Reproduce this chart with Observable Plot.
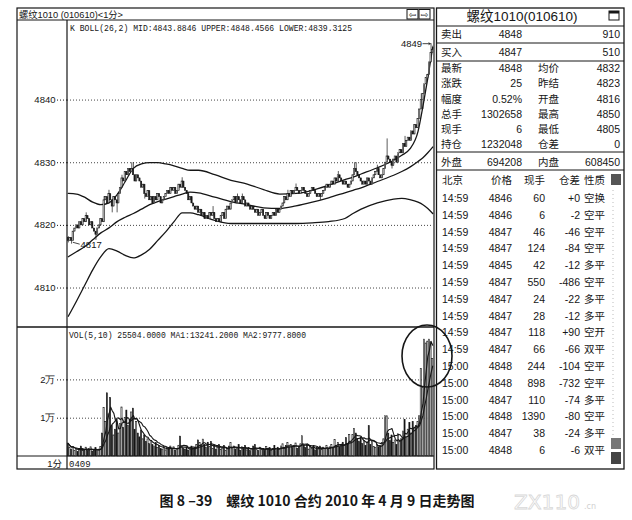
<!DOCTYPE html>
<html><head><meta charset="utf-8">
<script src="https://cdn.jsdelivr.net/npm/d3@7"></script>
<script src="https://cdn.jsdelivr.net/npm/@observablehq/plot@0.6"></script>
<style>
body{margin:0;background:#fff;}
#wrap{position:relative;width:632px;height:520px;overflow:hidden;background:#fff;}
#wrap svg{position:absolute;}
#wrap [aria-label="y-axis tick"] path{stroke-dasharray:1 2;}
</style></head><body><div id="wrap"></div>
<script>
// ---------------- DATA ----------------
const firstOpen = 4818;
const closes = [
4817.5,4818,4817.5,4819,4819.5,4820,4819.5,4820.5,4820,4821,4820.5,4821.5,4821,4820,4820.5,4819.5,4819,4818.5,4819.5,4820,4821,4820.5,
4824,4824.5,4823.5,4825,4824,4823,4824.5,4824,4823.5,4825,
4826,4827.5,4827,4828.5,4828,4829,4828.5,4829,4828,4827,
4828,4827.5,4827,4826,4826.5,4825,4824.5,4825.5,4824,4824.5,
4823.5,4824.5,4824,4825,4824.5,4823.5,4824,4824.5,4825,4825.5,
4825,4826,4825.5,4826,4825,4825.5,4826.5,4826,4827,4826,
4825.5,4825,4824,4824.5,4823.5,4823,4822.5,4823,4822,4822.5,
4821.5,4822,4821,4821.5,4821,4822,4821.5,4822,4821,4820.5,
4821,4820.5,4821.5,4822,4821,4822.5,4823,4822.5,4823.5,4824,
4824.5,4823.5,4824.5,4824,4823.5,4824.5,4824,4823,4823.5,4823,
4822.5,4823,4822.5,4822,4822.5,4821.5,4822,4822.5,4821.5,4821,
4822,4821.5,4821,4821.5,4822,4821.5,4822.5,4822,4822.5,4823,
4823.5,4824.5,4824,4825,4824.5,4825.5,4825,4825.5,4826,4825.5,
4825,4825.5,4826,4825.5,4825,4824.5,4825,4825.5,4826,4825.5,
4825,4824.5,4825,4824.5,4825,4825.5,4826,4826.5,4826,4826.5,
4827,4826.5,4827.5,4827,4828,4827.5,4827,4826.5,4827,4826.5,
4826,4826.5,4827,4828,4829,4828.5,4828,4827.5,4827,4826.5,
4827,4826.5,4827.5,4827,4826.5,4827.5,4828,4828.5,4829,4828,
4827.5,4828,4829,4830,4831,4830.5,4830,4829.5,4830.5,4831,
4830,4831.5,4832,4831.5,4833,4832.5,4833.5,4834,4833.5,4835,
4834.5,4836,4835.5,4837,4838.5,4840,4841,4842.5,4843.5,4844,
4846,4847.5,4848];
const highIdx = [0,11,22,25,33,39,40,70,89,104,107,135,140,166,176,177,190,196,207,217,223,224];
const highVal = [4818.2,4822,4824.6,4825.6,4828,4830,4830,4827.6,4823,4825,4825,4825.6,4826.6,4828.6,4830,4830,4829.6,4833.8,4834.2,4841,4849,4848.6];
const lowIdx = [0,2,17,27,30,47,155,199,218];
const lowVal = [4817.2,4817,4817.6,4822,4822,4824.2,4824,4829,4838.5];

const volumes = [
3400,2200,1800,2500,1500,2000,1200,1800,2600,1400,1700,2300,1500,1900,2400,1300,1600,2200,1400,1800,2500,
6000,12700,9000,16500,11000,15300,8000,5500,7000,9500,
6000,8500,12800,7500,10000,12000,8000,9500,11500,12500,
7000,9000,6000,5000,6800,4500,5500,3800,4500,3200,
4000,3000,2600,3500,2200,2800,2000,1800,2500,1600,
2200,1900,2600,1700,2400,1500,2000,2800,5200,2500,
2000,1800,2400,1500,2000,2600,1800,2200,3000,4200,
3500,2800,4400,3000,2200,3600,2500,3800,2000,2600,
1800,2400,3000,1700,2200,2800,1500,2000,2600,3500,
2000,2600,1800,2200,3000,1500,2400,1900,2800,1600,
2200,1400,2000,2600,3000,1800,1500,2300,1700,2000,
1400,2500,1800,2200,1500,2000,2800,1600,2300,1800,
2600,3200,2000,2800,3500,2400,3000,2200,2800,3400,
2000,2600,3200,5300,2800,2200,3000,1800,2500,2000,
2800,1600,2200,1900,2600,1700,2300,2000,2800,1800,
2400,3000,2200,4300,2800,3500,2400,3000,3600,2800,
4800,3200,5600,3800,5600,7200,6000,4500,3800,5000,
3200,4000,2800,3500,7900,3000,3800,2500,2200,3000,
2400,2800,3500,4500,10500,10500,6000,4000,5500,3500,
4200,3000,5800,3800,4500,6500,9600,5000,7000,8800,
6000,9000,7500,8000,9000,10500,22800,18000,30500,29500,
30000,30500,29800,25504];

// Bollinger(26,2) bands
const bandIdx   = [0,5,10,15,20,25,30,35,40,45,50,55,60,65,70,75,80,90,100,110,120,130,140,150,160,170,175,180,190,200,205,210,215,218,221,224];
const upperBand = [4825.1,4825.0,4824.5,4823.7,4823.3,4823.6,4824.9,4827.0,4829.1,4829.8,4830.0,4830.0,4829.8,4829.5,4829.1,4828.8,4828.8,4828.1,4827.2,4826.6,4825.7,4825.0,4825.1,4825.6,4826.4,4827.3,4827.7,4828.2,4829.2,4830.4,4831.2,4832.2,4835.0,4839.0,4843.5,4848.4];
const midBand   = [4815.0,4815.8,4816.6,4817.7,4818.8,4819.6,4820.6,4821.3,4821.9,4822.6,4823.3,4823.8,4824.2,4824.6,4825.0,4825.3,4825.2,4824.5,4823.8,4823.3,4822.8,4822.7,4823.1,4823.7,4824.4,4825.2,4825.6,4826.0,4827.0,4828.0,4828.6,4829.3,4830.2,4830.8,4831.6,4832.5];
const lowerBand = [4805.5,4807.9,4810.4,4812.9,4815.0,4816.3,4815.9,4815.2,4814.8,4815.3,4816.2,4817.6,4819.0,4820.6,4822.0,4822.0,4821.7,4820.8,4820.3,4820.3,4820.3,4820.3,4820.3,4820.4,4820.6,4821.1,4821.9,4822.6,4823.6,4824.2,4824.3,4824.1,4823.7,4823.3,4822.7,4821.9];

const priceTicks = [4810,4820,4830,4840];
const volTicks = [10000,20000];
const volTickLabels = ["1万","2万"];

const chartTitle = "螺纹1010 (010610)<1分>";
const bollHeader = "K  BOLL(26,2) MID:4843.8846 UPPER:4848.4566 LOWER:4839.3125";
const volHeader = "VOL(5,10) 25504.0000 MA1:13241.2000 MA2:9777.8000";
const periodLabel = "1分";
const dateLabel = "0409";

const panelTitle = "螺纹1010(010610)";
const quoteRows = [
 ["卖出","4848","","910"],
 ["买入","4847","","510"],
 ["最新","4848","均价","4832"],
 ["涨跌","25","昨结","4823"],
 ["幅度","0.52%","开盘","4816"],
 ["总手","1302658","最高","4850"],
 ["现手","6","最低","4805"],
 ["持仓","1232048","仓差","0"],
 ["外盘","694208","内盘","608450"]
];
const tradeHeader = ["北京","价格","现手","仓差","性质"];
const tradeTimes = ["14:59","14:59","14:59","14:59","14:59","14:59","14:59","14:59","14:59","14:59","15:00","15:00","15:00","15:00","15:00","15:00"];
const tradePrices = [4846,4846,4847,4847,4845,4847,4847,4847,4847,4847,4848,4848,4847,4848,4847,4848];
const tradeSizes = [60,6,46,124,42,550,24,28,118,66,244,898,110,1390,38,6];
const tradeOI = ["+0","-2","-46","-84","-12","-486","-22","-12","+90","-66","-104","-732","-74","-80","-24","-6"];
const tradeNature = ["空换","空平","空平","空平","多平","空平","多平","多平","空开","双平","空平","空平","多平","空平","多平","双平"];

const caption = "图 8 –39　螺纹 1010 合约 2010 年 4 月 9 日走势图";

// ---------------- BUILD ----------------
const ink = "#161616";
const N = closes.length;
const hiMap = new Map(highIdx.map((k,j)=>[k,highVal[j]]));
const loMap = new Map(lowIdx.map((k,j)=>[k,lowVal[j]]));
const rows = closes.map((c,i)=>{
  const o = i===0 ? firstOpen : closes[i-1];
  const h = Math.max(o,c, hiMap.has(i)?hiMap.get(i):-Infinity);
  const l = Math.min(o,c, loMap.has(i)?loMap.get(i):Infinity);
  return {i,o,c,h,l,v:volumes[i],up:c>=o};
});
const band = (arr)=>bandIdx.map((i,k)=>({i,v:arr[k]}));
const hw = 0.36;
const wrap = document.getElementById("wrap");
const baseStyle = {background:"transparent", overflow:"visible", fontFamily:"'Liberation Sans', sans-serif", fontSize:"9.5px", color:ink};

const maxI = d3.maxIndex(rows, d=>d.h);
const minI = d3.minIndex(rows, d=>d.l);

const pricePlot = Plot.plot({
  width:417, height:307, marginLeft:50, marginRight:1, marginTop:0, marginBottom:0,
  style: baseStyle,
  x:{type:"linear", domain:[-0.5, N-0.5], axis:null},
  y:{domain:[4803.7,4852.7], ticks:priceTicks, tickSize:10, tickPadding:2, tickFormat:d=>String(d), label:null},
  marks:[
    Plot.ruleY(priceTicks,{stroke:ink, strokeWidth:0.8, strokeDasharray:"1,2"}),
    Plot.line(band(upperBand),{x:"i",y:"v",curve:"monotone-x",stroke:ink,strokeWidth:1.3}),
    Plot.line(band(midBand),{x:"i",y:"v",curve:"monotone-x",stroke:ink,strokeWidth:1.3}),
    Plot.line(band(lowerBand),{x:"i",y:"v",curve:"monotone-x",stroke:ink,strokeWidth:1.3}),
    Plot.ruleX(rows,{x:"i",y1:"l",y2:"h",stroke:ink,strokeWidth:0.7}),
    Plot.rect(rows.filter(d=>d.c>d.o),{x1:d=>d.i-hw,x2:d=>d.i+hw,y1:"o",y2:"c",fill:"white",stroke:ink,strokeWidth:0.6}),
    Plot.rect(rows.filter(d=>d.c<d.o),{x1:d=>d.i-hw,x2:d=>d.i+hw,y1:"o",y2:"c",fill:ink,stroke:ink,strokeWidth:0.5}),
    Plot.ruleY(rows.filter(d=>d.c===d.o),{x1:d=>d.i-hw,x2:d=>d.i+hw,y:"c",stroke:ink,strokeWidth:0.8}),
    Plot.text([rows[maxI]],{x:"i",y:"h",text:d=>String(d.h),dx:-9,textAnchor:"end",fontSize:9.5,fill:ink}),
    Plot.arrow([rows[maxI]],{x1:d=>d.i-5,x2:d=>d.i-0.5,y1:"h",y2:"h",stroke:ink,strokeWidth:0.8,headLength:3}),
    Plot.text([rows[minI]],{x:"i",y:"l",text:d=>String(d.l),dx:9,dy:1,textAnchor:"start",fontSize:9.5,fill:ink}),
    Plot.link([rows[minI]],{x1:d=>d.i+0.8,x2:d=>d.i+5,y1:d=>d.l+0.3,y2:"l",stroke:ink,strokeWidth:0.8})
  ]
});
pricePlot.style.left="17px"; pricePlot.style.top="20px";
wrap.appendChild(pricePlot);

const volPlot = Plot.plot({
  width:417, height:129, marginLeft:50, marginRight:1, marginTop:0, marginBottom:0,
  style: baseStyle,
  x:{type:"linear", domain:[-0.5, N-0.5], axis:null},
  y:{domain:[0,33680], ticks:volTicks, tickSize:10, tickPadding:2, tickFormat:d=>volTickLabels[volTicks.indexOf(d)], label:null},
  marks:[
    Plot.ruleY(volTicks,{stroke:ink, strokeWidth:0.8, strokeDasharray:"1,2"}),
    Plot.rect(rows.filter(d=>d.up),{x1:d=>d.i-hw,x2:d=>d.i+hw,y1:0,y2:"v",fill:"white",stroke:ink,strokeWidth:0.6}),
    Plot.rect(rows.filter(d=>!d.up),{x1:d=>d.i-hw,x2:d=>d.i+hw,y1:0,y2:"v",fill:ink,stroke:ink,strokeWidth:0.5}),
    Plot.lineY(rows, Plot.windowY({k:5, anchor:"end", reduce:"mean"},{x:"i",y:"v",stroke:ink,strokeWidth:1.1})),
    Plot.lineY(rows, Plot.windowY({k:10, anchor:"end", reduce:"mean"},{x:"i",y:"v",stroke:ink,strokeWidth:1.1}))
  ]
});
volPlot.style.left="17px"; volPlot.style.top="327px";
wrap.appendChild(volPlot);

// ---------------- FRAME / PANEL OVERLAY ----------------
const svg = d3.select(wrap).append("svg").attr("width",632).attr("height",520).style("left","0px").style("top","0px");
const line=(x1,y1,x2,y2,w=1)=>svg.append("line").attr("x1",x1).attr("y1",y1).attr("x2",x2).attr("y2",y2).attr("stroke",ink).attr("stroke-width",w);
const txt=(s,x,y,anchor="start",size=10.5,fam="'Liberation Sans','Noto Sans CJK SC',sans-serif")=>svg.append("text").attr("x",x).attr("y",y).attr("text-anchor",anchor).attr("font-size",size).attr("font-family",fam).attr("fill",ink).text(s);

// left chart frame
svg.append("rect").attr("x",17).attr("y",8).attr("width",417).attr("height",461).attr("fill","none").attr("stroke",ink).attr("stroke-width",1.2);
line(17,20,434,20,1);
line(67,20,67,469,1.2);
line(17,327,434,327,1.6);
line(17,456,434,456,1);
txt(chartTitle,19,17.5,"start",9.5).attr("textLength",104).attr("lengthAdjust","spacingAndGlyphs");
// buttons
[[407,"⇦"],[419,"⇨"]].forEach(([bx,ch])=>{
  svg.append("rect").attr("x",bx).attr("y",9.5).attr("width",11).attr("height",9.5).attr("fill","white").attr("stroke",ink).attr("stroke-width",1);
  txt(ch,bx+5.5,17.5,"middle",9,"'DejaVu Sans',sans-serif");
});
txt(bollHeader,70,31,"start",8.5,"'Liberation Mono',monospace").attr("textLength",282).attr("lengthAdjust","spacingAndGlyphs");
txt(volHeader,69,338,"start",8.5,"'Liberation Mono',monospace").attr("textLength",237).attr("lengthAdjust","spacingAndGlyphs");
txt(periodLabel,62,466.5,"end",9.5);
txt(dateLabel,69,466.5,"start",9,"'Liberation Mono',monospace");

// circle annotation
svg.append("ellipse").attr("cx",427).attr("cy",356).attr("rx",25).attr("ry",31).attr("fill","none").attr("stroke",ink).attr("stroke-width",1.6);

// right panel
svg.append("rect").attr("x",436.5).attr("y",8).attr("width",187.5).attr("height",461).attr("fill","none").attr("stroke",ink).attr("stroke-width",1.3);
txt(panelTitle,522,21,"middle",13.5);
svg.append("rect").attr("x",609).attr("y",11).attr("width",10).attr("height",9).attr("fill","white").attr("stroke",ink).attr("stroke-width",1);
svg.append("rect").attr("x",609).attr("y",11).attr("width",10).attr("height",2.5).attr("fill",ink);
[26,43,61,152,170].forEach(y=>line(436.5,y,624,y,1));
const quoteY=[34.3,52.3,68.3,83.3,98.5,114,129,144,161.5];
quoteRows.forEach((r,k)=>{
  const y=quoteY[k]+4;
  txt(r[0],441,y,"start");
  txt(r[1],522,y,"end");
  if(r[2]) txt(r[2],538,y,"start");
  txt(r[3],620,y,"end");
});
const colX=[[442,"start"],[512,"end"],[545,"end"],[580,"end"],[584,"start"]];
tradeHeader.forEach((h,j)=>txt(h,colX[j][0],184,colX[j][1]));
tradeTimes.forEach((t,k)=>{
  const y=198+k*16.8+4;
  const vals=[t,String(tradePrices[k]),String(tradeSizes[k]),tradeOI[k],tradeNature[k]];
  vals.forEach((s,j)=>txt(s,colX[j][0],y,colX[j][1]));
});
// scroll strip
line(613,190,613,436,0.8).attr("stroke","#aaa").attr("stroke-dasharray","1,3");
svg.append("rect").attr("x",611).attr("y",174).attr("width",10).attr("height",11).attr("fill","#555");
svg.append("rect").attr("x",611).attr("y",438).attr("width",10).attr("height",11).attr("fill","#777");
svg.append("rect").attr("x",611).attr("y",452).attr("width",10).attr("height",12).attr("fill","#444");

// caption + watermark
txt(caption,317,506,"middle",14,"'Noto Sans CJK SC',sans-serif").attr("font-weight","bold");
svg.append("text").attr("x",514).attr("y",509).attr("font-size",20).attr("font-family","'DejaVu Sans',sans-serif").attr("fill","none").attr("stroke","#d8d8d8").attr("stroke-width",0.8).attr("textLength",66).attr("lengthAdjust","spacingAndGlyphs").text("ZX110");
svg.append("text").attr("x",584).attr("y",509).attr("font-size",8).attr("font-family","'DejaVu Sans',sans-serif").attr("fill","#d0d0d0").text(".cn");
</script></body></html>
